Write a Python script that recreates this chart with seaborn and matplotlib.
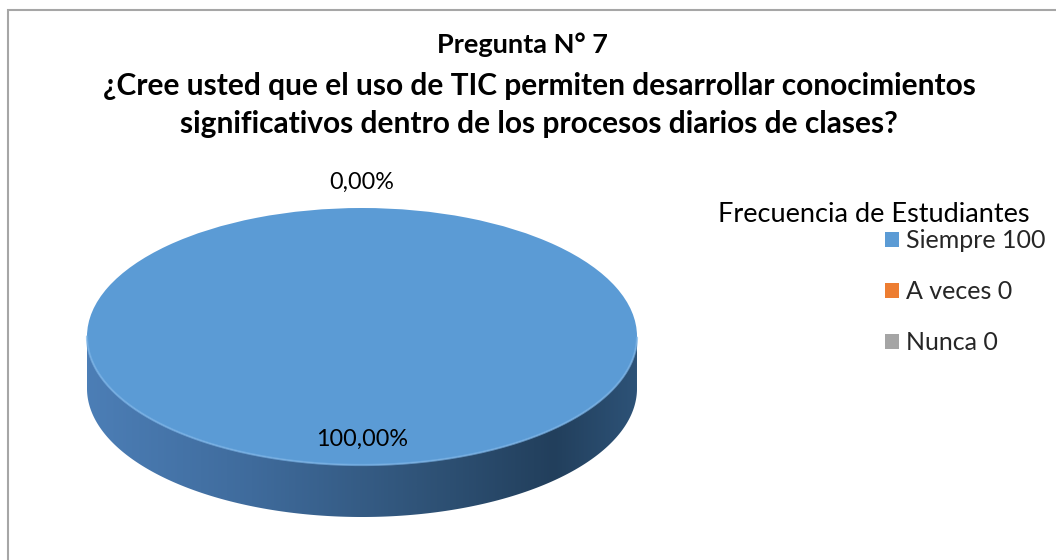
import numpy as np
import matplotlib
matplotlib.use("Agg")
import matplotlib.pyplot as plt
from matplotlib.colors import LinearSegmentedColormap
from matplotlib.patches import Polygon, Rectangle
import seaborn as sns

# Survey answers: question 7
categorias = ["Siempre", "A veces", "Nunca"]
frecuencia = [100, 0, 0]
colores = ["#5B9BD5", "#ED7D31", "#A5A5A5"]
titulo_1 = "Pregunta N° 7"
titulo_2 = ("¿Cree usted que el uso de TIC permiten desarrollar conocimientos\n"
            "significativos dentro de los procesos diarios de clases?")
titulo_leyenda = "Frecuencia de Estudiantes"

sns.set_theme(style="white")
plt.rcParams["font.family"] = ["Lato", "DejaVu Sans"]

W, H = 1056, 560
fig = plt.figure(figsize=(W / 100, H / 100), dpi=100)
fig.patch.set_facecolor("white")

# chart frame
fig.patches.append(Rectangle((8 / W, -0.05), 1.2, (H - 10) / H + 0.05,
                             transform=fig.transFigure, fill=False,
                             edgecolor="#A6A6A6", linewidth=1.5))

# pie axes: x in [-1.1, 1.1], y in [-1.55, 1.35]; top face radius 1, side depth below
px_x, px_y = 275.0, 128.5
cx, cy = 362.0, 336.5
xl, yl = (-1.1, 1.1), (-1.55, 1.35)
left = (cx + xl[0] * px_x) / W
width = (xl[1] - xl[0]) * px_x / W
bottom = (H - (cy - yl[0] * px_y)) / H
height = (yl[1] - yl[0]) * px_y / H
ax = fig.add_axes([left, bottom, width, height])

total = float(sum(frecuencia))
porcentajes = [v / total * 100 for v in frecuencia]

wedges, _ = ax.pie(frecuencia, colors=colores, startangle=90, counterclock=False,
                   radius=1.0, wedgeprops=dict(linewidth=0, zorder=3))
ax.set_aspect("auto")

# extruded side of the pie, shaded left to right
depth = 52.0 / px_y
side_cmap = LinearSegmentedColormap.from_list(
    "lado", [(0.0, "#4C7EB6"), (0.3, "#3F6B9C"), (0.6, "#305479"),
             (0.85, "#223F5C"), (1.0, "#2D5277")])
grad = np.linspace(0, 1, 512).reshape(1, -1)
for w in wedges:
    if w.theta2 - w.theta1 <= 0:
        continue
    t = np.radians(np.linspace(w.theta1, w.theta2, 721))
    # keep the front (lower) half, with angles in [pi, 2*pi]
    t = np.mod(t - np.pi, 2 * np.pi) + np.pi
    t = np.unique(t[np.sin(t) <= 1e-9])
    if t.size < 2:
        continue
    xs, ys = w.r * np.cos(t), w.r * np.sin(t)
    pts = np.concatenate([np.column_stack([xs, ys]),
                          np.column_stack([xs[::-1], ys[::-1] - depth])])
    poly = Polygon(pts, closed=True, facecolor="none", edgecolor="none")
    ax.add_patch(poly)
    im = ax.imshow(grad, cmap=side_cmap, extent=(-1, 1, -1 - depth, 0),
                   aspect="auto", zorder=1, interpolation="bilinear")
    im.set_clip_path(poly)
    # soft highlight on the front rim of the top face
    ax.plot(xs, ys, color="#79B2E6", linewidth=1.6, alpha=0.7, zorder=4)

# percentage labels
vistos = set()
for w, p in zip(wedges, porcentajes):
    ang = np.radians((w.theta1 + w.theta2) / 2)
    r = 0.8 if p > 0 else 1.2
    pos = (round(r * np.cos(ang), 4), round(r * np.sin(ang), 4))
    if pos in vistos:
        continue
    vistos.add(pos)
    ax.text(pos[0], pos[1], f"{p:.2f}%".replace(".", ","), ha="center",
            va="center", fontsize=16.8, color="black", zorder=5)

ax.set_xlim(*xl)
ax.set_ylim(*yl)
ax.axis("off")

# titles
fig.text(522 / W, 1 - 45 / H, titulo_1, ha="center", va="center",
         fontsize=19.5, fontweight="bold", color="black")
fig.text(539 / W, 1 - 105 / H, titulo_2, ha="center", va="center",
         fontsize=21.5, fontweight="bold", color="black", linespacing=1.47)

# legend
fig.text(1030 / W, 1 - 215 / H, titulo_leyenda, ha="right", va="center",
         fontsize=19.5, color="black")
etiquetas = [f"{c} {v}" for c, v in zip(categorias, frecuencia)]
leg = fig.legend(wedges, etiquetas, loc="upper left",
                 bbox_to_anchor=(885 / W, 1 - 229 / H),
                 frameon=False, fontsize=18,
                 handlelength=0.55, handleheight=0.55,
                 handletextpad=0.3, labelspacing=1.12, borderaxespad=0,
                 borderpad=0)

fig.savefig("out.png", dpi=100)
